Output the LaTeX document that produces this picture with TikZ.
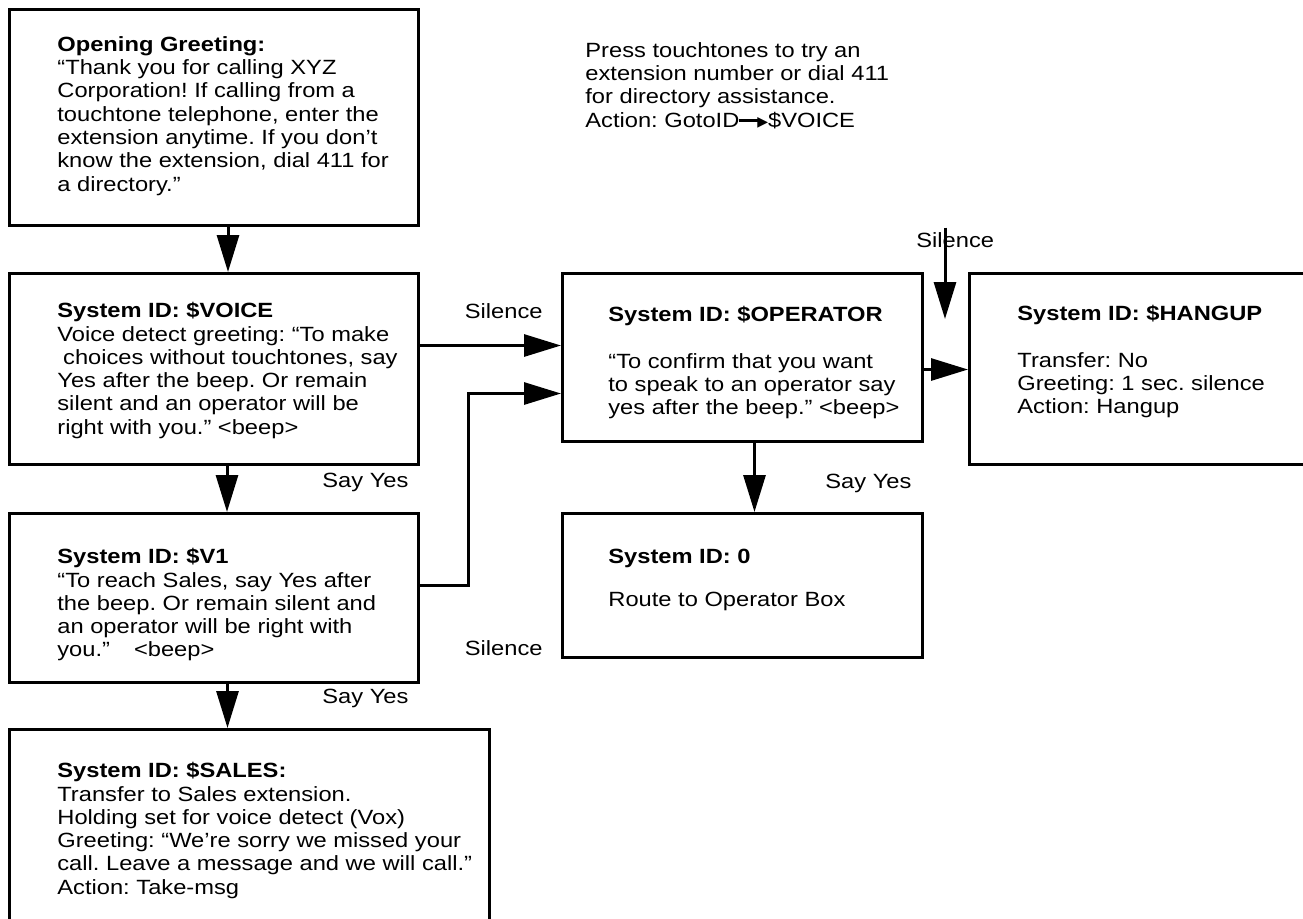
\documentclass[tikz,border=0pt]{standalone}
\usepackage{fontspec}
\setmainfont{Liberation Sans}[FakeStretch=1.15]
\newfontfamily\symfont{DejaVu Sans}
\usetikzlibrary{arrows.meta,positioning,calc}
\newcommand{\promptfont}{\fontsize{10.3pt}{11.65pt}\selectfont\frenchspacing}
\newcommand{\gotoarrow}{%
  \rule[0.27em]{0.95em}{0.14em}\kern-0.08em%
  \raisebox{0.45pt}{\symfont\fontsize{7pt}{7pt}\selectfont ▶}}
\tikzset{
  statebox/.style={
    draw=black,
    line width=1.5pt,
    fill=white,
    anchor=north west,
    inner sep=0pt
  },
  boxtext/.style={
    anchor=north west,
    inner sep=0pt,
    align=left,
    font=\promptfont
  },
  branchlabel/.style={
    inner sep=0pt,
    font=\promptfont
  },
  flowarrow/.style={
    -{Triangle[length=18.5pt,width=11pt]},
    line width=1.5pt
  }
}
% name, corner, width, height, text corner, text
\newcommand{\statebox}[6]{%
  \node[statebox, minimum width=#3, minimum height=#4] (#1) at (#2) {};
  \node[boxtext] (#1-text) at (#5) {#6};
}

\begin{document}
\begin{tikzpicture}[x=0.5pt,y=-0.5pt]
\useasboundingbox (0,0) rectangle (1303,918);
\clip (0,0) rectangle (1303,918);

% Left column: greeting and voice prompts.
\statebox{greet}{8,8}{204.5pt}{108pt}{57,36}{%
  \textbf{Opening Greeting:}\\
  “Thank you for calling XYZ\\
  Corporation! If calling from a\\
  touchtone telephone, enter the\\
  extension anytime. If you don’t\\
  know the extension, dial 411 for\\
  a directory.”}

\statebox{voice}{8,272}{204.5pt}{95.5pt}{57,302}{%
  \textbf{System ID: \$VOICE}\\
  Voice detect greeting: “To make\\
  \hspace*{0.28em}choices without touchtones, say\\
  Yes after the beep. Or remain\\
  silent and an operator will be\\
  right with you.” <beep>}

\statebox{vone}{8,512}{204.5pt}{84.5pt}{57,548}{%
  \textbf{System ID: \$V1}\\
  “To reach Sales, say Yes after\\
  the beep. Or remain silent and\\
  an operator will be right with\\
  you.”\hspace{12pt}<beep>}

\statebox{sales}{8,728}{240pt}{110pt}{57,762}{%
  \textbf{System ID: \$SALES:}\\
  Transfer to Sales extension.\\
  Holding set for voice detect (Vox)\\
  Greeting: “We’re sorry we missed your\\
  call. Leave a message and we will call.”\\
  Action: Take-msg}

% Right side: operator and hangup.
\statebox{operator}{561,272}{180pt}{84pt}{608,306}{%
  \textbf{System ID: \$OPERATOR}\\[11.65pt]
  “To confirm that you want\\
  to speak to an operator say\\
  yes after the beep.” <beep>}

\statebox{opbox}{561,512}{180pt}{72pt}{608,549}{%
  \textbf{System ID: 0}\\[9.8pt]
  Route to Operator Box}

\statebox{hangup}{968,272}{180pt}{95.5pt}{1017,305}{%
  \textbf{System ID: \$HANGUP}\\[11.65pt]
  Transfer: No\\
  Greeting: 1 sec. silence\\
  Action: Hangup}

\node[boxtext] (touchnote) at (585,42) {%
  Press touchtones to try an\\
  extension number or dial 411\\
  for directory assistance.\\
  Action: GotoID\gotoarrow\$VOICE};

% Branch labels.
\node[branchlabel, anchor=base east] (silvoice) at (543,318) {Silence};
\node[branchlabel, anchor=base west] (yesvoice) at (322,487) {Say Yes};
\node[branchlabel, anchor=base east] (silvone) at (543,655) {Silence};
\node[branchlabel, anchor=base west] (yesvone) at (322,703) {Say Yes};
\node[branchlabel, anchor=base west] (yesop) at (825,488) {Say Yes};
\node[branchlabel, anchor=base west] (silhang) at (916,247) {Silence};

% Connectors.
\coordinate (greetdrop) at ([xshift=7pt]greet.south);
\draw[flowarrow] (greetdrop) -- (greetdrop |- voice.north);
\coordinate (voicedrop) at ([xshift=6.5pt]voice.south);
\draw[flowarrow] (voicedrop) -- (voicedrop |- vone.north);
\coordinate (vonedrop) at ([xshift=6.75pt]vone.south);
\draw[flowarrow] (vonedrop) -- (vonedrop |- sales.north);

\coordinate (voiceout) at ([yshift=11.75pt]voice.east);
\draw[flowarrow] (voiceout) -- (voiceout -| operator.west);
\coordinate (voneout) at ([yshift=6.25pt]vone.east);
\coordinate (opin) at ([yshift=-18pt]operator.west);
\draw[flowarrow] (voneout) -- ++(24pt,0) |- (opin);

\coordinate (opdrop) at ([xshift=6pt]operator.south);
\draw[flowarrow] (opdrop) -- (opdrop |- opbox.north);
\coordinate (opout) at ([yshift=-6pt]operator.east);
\draw[flowarrow] (opout) -- (opout -| hangup.west);

\coordinate (hangsilence) at (945,319);
\draw[flowarrow] ([yshift=2pt]hangsilence |- silhang.north) -- (hangsilence);

\end{tikzpicture}
\end{document}
